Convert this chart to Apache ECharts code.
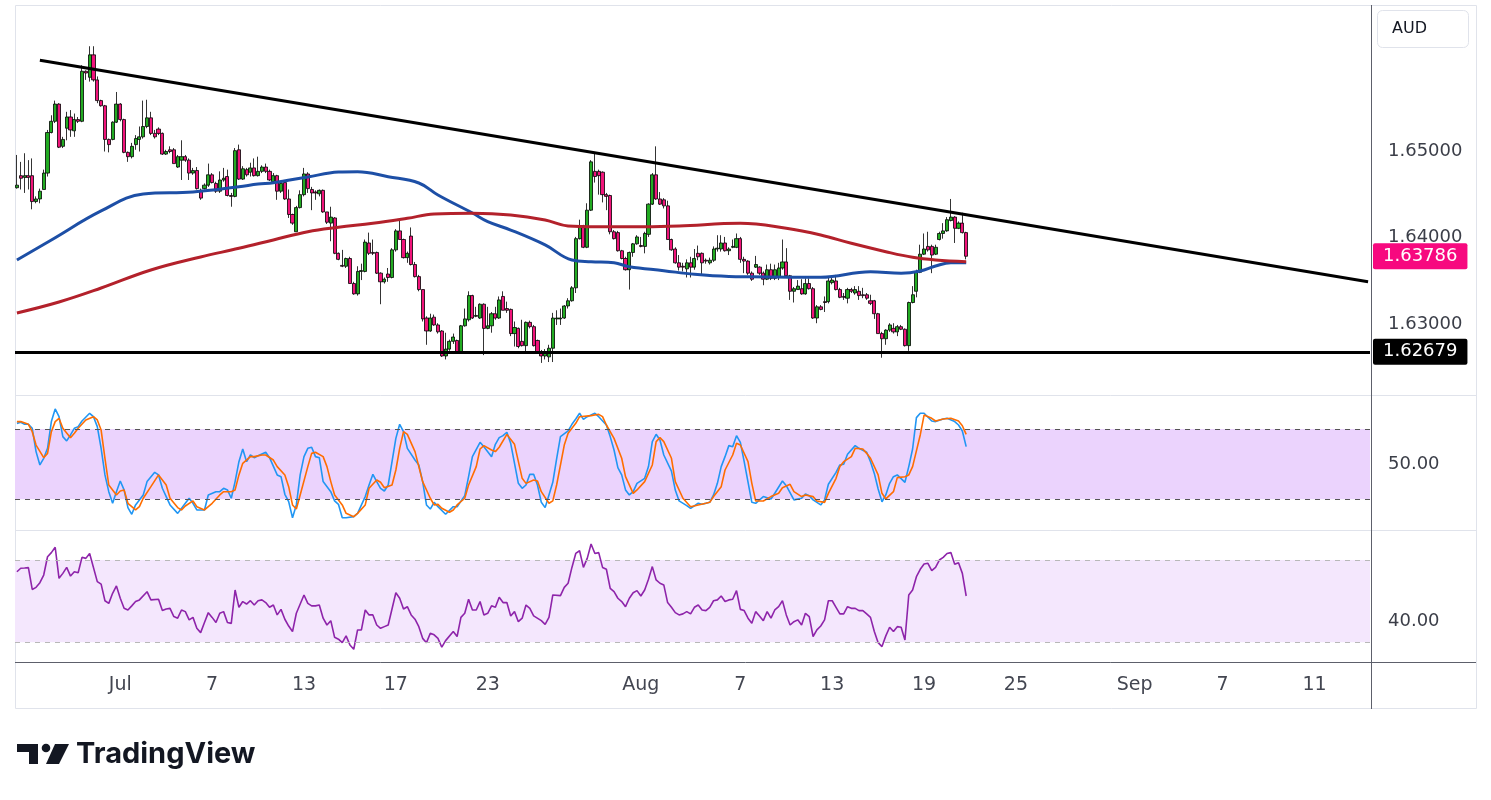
<!DOCTYPE html>
<html lang="en">
<head>
<meta charset="UTF-8">
<title>AUD 4H chart</title>
<script src="https://cdn.jsdelivr.net/npm/echarts@6.0.0/dist/echarts.min.js"></script>
<style>html,body{margin:0;padding:0;background:#fff;}</style>
</head>
<body>
<div id="main" style="width:1491px;height:800px;"></div>
<script>
// candles: [open, close, low, high], one per 4h bar
const candles = [
  [1.6458,1.6461,1.6457,1.6496],[1.6472,1.6469,1.6456,1.6488],[1.6470,1.6472,1.6452,1.6498],[1.6472,1.6470,1.6456,1.6490],[1.6472,1.6442,1.6433,1.6492],[1.6442,1.6445,1.6440,1.6448],
  [1.6445,1.6454,1.6440,1.6457],[1.6456,1.6475,1.6456,1.6479],[1.6475,1.6522,1.6471,1.6525],[1.6522,1.6535,1.6521,1.6542],[1.6535,1.6555,1.6533,1.6559],[1.6555,1.6505,1.6504,1.6556],
  [1.6506,1.6514,1.6504,1.6517],[1.6527,1.6540,1.6513,1.6546],[1.6540,1.6525,1.6517,1.6548],[1.6524,1.6537,1.6517,1.6544],[1.6537,1.6535,1.6533,1.6540],[1.6535,1.6593,1.6534,1.6600],
  [1.6593,1.6591,1.6583,1.6594],[1.6586,1.6612,1.6581,1.6622],[1.6612,1.6583,1.6581,1.6622],[1.6583,1.6559,1.6556,1.6587],[1.6559,1.6553,1.6552,1.6560],[1.6553,1.6514,1.6500,1.6554],
  [1.6514,1.6508,1.6499,1.6515],[1.6514,1.6534,1.6513,1.6535],[1.6534,1.6555,1.6533,1.6569],[1.6555,1.6537,1.6535,1.6556],[1.6537,1.6499,1.6498,1.6538],[1.6499,1.6494,1.6488,1.6500],
  [1.6494,1.6506,1.6492,1.6510],[1.6508,1.6515,1.6502,1.6519],[1.6514,1.6517,1.6500,1.6529],[1.6517,1.6529,1.6515,1.6559],[1.6529,1.6539,1.6527,1.6560],[1.6539,1.6521,1.6519,1.6546],
  [1.6521,1.6517,1.6515,1.6525],[1.6526,1.6521,1.6519,1.6528],[1.6521,1.6497,1.6496,1.6522],[1.6497,1.6500,1.6496,1.6502],[1.6502,1.6500,1.6498,1.6506],[1.6502,1.6486,1.6486,1.6504],
  [1.6482,1.6494,1.6481,1.6496],[1.6490,1.6494,1.6467,1.6513],[1.6494,1.6490,1.6488,1.6496],[1.6490,1.6475,1.6467,1.6492],[1.6475,1.6478,1.6473,1.6481],[1.6478,1.6457,1.6456,1.6482],
  [1.6455,1.6446,1.6444,1.6457],[1.6457,1.6461,1.6456,1.6463],[1.6461,1.6473,1.6459,1.6486],[1.6473,1.6464,1.6463,1.6475],[1.6463,1.6454,1.6452,1.6465],[1.6454,1.6467,1.6452,1.6477],
  [1.6467,1.6469,1.6465,1.6481],[1.6471,1.6449,1.6448,1.6479],[1.6449,1.6448,1.6436,1.6452],[1.6448,1.6501,1.6447,1.6504],[1.6502,1.6468,1.6467,1.6508],[1.6468,1.6480,1.6467,1.6483],
  [1.6479,1.6473,1.6471,1.6481],[1.6476,1.6481,1.6471,1.6487],[1.6481,1.6472,1.6471,1.6492],[1.6472,1.6477,1.6471,1.6494],[1.6477,1.6482,1.6475,1.6484],[1.6482,1.6477,1.6475,1.6486],
  [1.6477,1.6467,1.6466,1.6479],[1.6465,1.6472,1.6464,1.6475],[1.6472,1.6454,1.6444,1.6473],[1.6454,1.6463,1.6452,1.6465],[1.6464,1.6445,1.6444,1.6467],[1.6445,1.6427,1.6423,1.6456],
  [1.6427,1.6417,1.6415,1.6428],[1.6407,1.6435,1.6407,1.6437],[1.6435,1.6450,1.6434,1.6455],[1.6450,1.6474,1.6448,1.6481],[1.6474,1.6457,1.6452,1.6476],[1.6456,1.6452,1.6432,1.6459],
  [1.6453,1.6452,1.6444,1.6455],[1.6451,1.6455,1.6448,1.6456],[1.6455,1.6430,1.6429,1.6456],[1.6430,1.6418,1.6416,1.6430],[1.6417,1.6424,1.6396,1.6436],[1.6423,1.6382,1.6381,1.6424],
  [1.6382,1.6375,1.6374,1.6383],[1.6368,1.6367,1.6366,1.6386],[1.6367,1.6376,1.6365,1.6377],[1.6376,1.6347,1.6347,1.6378],[1.6347,1.6335,1.6334,1.6349],[1.6335,1.6361,1.6333,1.6367],
  [1.6361,1.6362,1.6351,1.6370],[1.6361,1.6395,1.6360,1.6398],[1.6394,1.6382,1.6380,1.6406],[1.6383,1.6382,1.6380,1.6398],[1.6383,1.6359,1.6358,1.6384],[1.6359,1.6349,1.6323,1.6360],
  [1.6349,1.6352,1.6347,1.6354],[1.6358,1.6354,1.6349,1.6365],[1.6354,1.6386,1.6353,1.6388],[1.6386,1.6408,1.6384,1.6410],[1.6408,1.6398,1.6398,1.6421],[1.6398,1.6377,1.6376,1.6399],
  [1.6377,1.6382,1.6371,1.6384],[1.6402,1.6369,1.6368,1.6412],[1.6369,1.6355,1.6354,1.6372],[1.6355,1.6340,1.6338,1.6357],[1.6340,1.6306,1.6303,1.6340],[1.6307,1.6292,1.6276,1.6309],
  [1.6292,1.6307,1.6291,1.6312],[1.6308,1.6299,1.6298,1.6311],[1.6299,1.6291,1.6289,1.6301],[1.6292,1.6263,1.6262,1.6293],[1.6263,1.6271,1.6259,1.6290],[1.6271,1.6280,1.6269,1.6282],
  [1.6280,1.6285,1.6277,1.6289],[1.6281,1.6268,1.6267,1.6282],[1.6268,1.6298,1.6267,1.6299],[1.6298,1.6306,1.6297,1.6318],[1.6305,1.6333,1.6303,1.6338],[1.6333,1.6307,1.6306,1.6334],
  [1.6309,1.6310,1.6308,1.6320],[1.6307,1.6323,1.6306,1.6324],[1.6323,1.6295,1.6264,1.6324],[1.6295,1.6298,1.6294,1.6320],[1.6298,1.6312,1.6290,1.6314],[1.6312,1.6307,1.6305,1.6320],
  [1.6307,1.6328,1.6306,1.6332],[1.6332,1.6316,1.6316,1.6338],[1.6318,1.6316,1.6313,1.6326],[1.6317,1.6289,1.6286,1.6318],[1.6289,1.6296,1.6274,1.6303],[1.6295,1.6274,1.6272,1.6296],
  [1.6280,1.6275,1.6274,1.6305],[1.6275,1.6302,1.6268,1.6303],[1.6302,1.6297,1.6295,1.6304],[1.6297,1.6275,1.6274,1.6299],[1.6281,1.6268,1.6267,1.6282],[1.6268,1.6263,1.6255,1.6270],
  [1.6263,1.6266,1.6259,1.6271],[1.6262,1.6272,1.6256,1.6276],[1.6272,1.6307,1.6256,1.6313],[1.6306,1.6307,1.6299,1.6316],[1.6306,1.6307,1.6299,1.6318],[1.6307,1.6321,1.6306,1.6322],
  [1.6321,1.6327,1.6318,1.6330],[1.6327,1.6342,1.6326,1.6344],[1.6342,1.6399,1.6336,1.6401],[1.6399,1.6414,1.6398,1.6421],[1.6414,1.6389,1.6388,1.6415],[1.6389,1.6432,1.6388,1.6440],
  [1.6432,1.6488,1.6431,1.6490],[1.6477,1.6471,1.6464,1.6498],[1.6477,1.6472,1.6450,1.6479],[1.6476,1.6450,1.6441,1.6477],[1.6450,1.6448,1.6432,1.6452],[1.6449,1.6407,1.6404,1.6450],
  [1.6407,1.6399,1.6398,1.6409],[1.6406,1.6385,1.6384,1.6408],[1.6385,1.6376,1.6375,1.6386],[1.6376,1.6363,1.6362,1.6378],[1.6363,1.6383,1.6340,1.6384],[1.6383,1.6393,1.6378,1.6394],
  [1.6393,1.6401,1.6392,1.6403],[1.6391,1.6390,1.6389,1.6401],[1.6390,1.6405,1.6382,1.6407],[1.6404,1.6439,1.6401,1.6440],[1.6439,1.6473,1.6438,1.6475],[1.6473,1.6445,1.6444,1.6506],
  [1.6445,1.6439,1.6438,1.6453],[1.6444,1.6437,1.6434,1.6446],[1.6437,1.6398,1.6398,1.6443],[1.6398,1.6386,1.6385,1.6399],[1.6387,1.6371,1.6370,1.6389],[1.6371,1.6366,1.6362,1.6380],
  [1.6367,1.6366,1.6361,1.6371],[1.6364,1.6371,1.6354,1.6375],[1.6371,1.6366,1.6354,1.6378],[1.6366,1.6376,1.6363,1.6387],[1.6382,1.6378,1.6374,1.6391],[1.6382,1.6371,1.6356,1.6383],
  [1.6374,1.6373,1.6370,1.6376],[1.6371,1.6374,1.6369,1.6377],[1.6374,1.6387,1.6372,1.6390],[1.6387,1.6388,1.6384,1.6403],[1.6387,1.6394,1.6384,1.6403],[1.6394,1.6385,1.6384,1.6401],
  [1.6385,1.6387,1.6380,1.6389],[1.6389,1.6390,1.6388,1.6398],[1.6389,1.6399,1.6388,1.6405],[1.6399,1.6375,1.6371,1.6401],[1.6375,1.6373,1.6359,1.6378],[1.6373,1.6359,1.6357,1.6374],
  [1.6359,1.6352,1.6350,1.6361],[1.6366,1.6369,1.6365,1.6379],[1.6366,1.6359,1.6357,1.6367],[1.6359,1.6352,1.6345,1.6361],[1.6352,1.6363,1.6351,1.6369],[1.6363,1.6353,1.6351,1.6370],
  [1.6353,1.6363,1.6351,1.6369],[1.6354,1.6365,1.6351,1.6371],[1.6365,1.6372,1.6363,1.6398],[1.6372,1.6356,1.6354,1.6388],[1.6356,1.6338,1.6328,1.6357],[1.6338,1.6341,1.6325,1.6343],
  [1.6340,1.6344,1.6340,1.6351],[1.6341,1.6335,1.6334,1.6352],[1.6335,1.6347,1.6334,1.6353],[1.6347,1.6341,1.6340,1.6353],[1.6341,1.6307,1.6306,1.6343],[1.6307,1.6320,1.6301,1.6322],
  [1.6320,1.6317,1.6316,1.6322],[1.6326,1.6325,1.6314,1.6332],[1.6326,1.6350,1.6324,1.6354],[1.6348,1.6351,1.6346,1.6356],[1.6350,1.6340,1.6339,1.6357],[1.6340,1.6331,1.6330,1.6342],
  [1.6332,1.6331,1.6328,1.6336],[1.6330,1.6340,1.6324,1.6342],[1.6340,1.6338,1.6336,1.6342],[1.6336,1.6340,1.6334,1.6344],[1.6338,1.6333,1.6328,1.6344],[1.6334,1.6333,1.6330,1.6342],
  [1.6334,1.6330,1.6328,1.6336],[1.6327,1.6324,1.6322,1.6334],[1.6327,1.6312,1.6306,1.6328],[1.6312,1.6289,1.6289,1.6313],[1.6289,1.6283,1.6261,1.6291],[1.6283,1.6293,1.6276,1.6294],
  [1.6293,1.6299,1.6291,1.6301],[1.6295,1.6291,1.6289,1.6301],[1.6291,1.6297,1.6286,1.6299],[1.6297,1.6294,1.6293,1.6299],[1.6294,1.6275,1.6274,1.6295],[1.6275,1.6325,1.6269,1.6326],
  [1.6325,1.6334,1.6324,1.6344],[1.6338,1.6360,1.6331,1.6363],[1.6360,1.6381,1.6359,1.6392],[1.6381,1.6387,1.6380,1.6405],[1.6390,1.6386,1.6384,1.6407],[1.6390,1.6380,1.6359,1.6392],
  [1.6381,1.6389,1.6380,1.6392],[1.6398,1.6405,1.6397,1.6407],[1.6405,1.6408,1.6399,1.6417],[1.6408,1.6421,1.6407,1.6424],[1.6420,1.6424,1.6419,1.6445],[1.6424,1.6411,1.6394,1.6425],
  [1.6411,1.6417,1.6410,1.6419],[1.6417,1.6406,1.6405,1.6429],[1.6406,1.63786,1.6375,1.6407]
];

// moving averages, [bar index, value]
const blueMA = [[0,1.63743],[9,1.63975],[22,1.64311],[33,1.64508],[46,1.64531],[58,1.64592],[63,1.64623],[67,1.64638],[76,1.64705],[84,1.64762],[89,1.64766],[97,1.64708],[105,1.64635],[110,1.64496],[119,1.64287],[123,1.64187],[129,1.64090],[138,1.63917],[145,1.63743],[150,1.63723],[156,1.63711],[160,1.63665],[169,1.63619],[177,1.63577],[186,1.63552],[192,1.63549],[210,1.63542],[223,1.63607],[231,1.63589],[236,1.63615],[240,1.63673],[244,1.63711],[248,1.63711]];
const redMA = [[0,1.63129],[11,1.63256],[22,1.63418],[35,1.63627],[48,1.63778],[58,1.63878],[67,1.63975],[76,1.64071],[84,1.64122],[93,1.64168],[102,1.64226],[109,1.64276],[119,1.64284],[129,1.64264],[138,1.64206],[144,1.64137],[151,1.64129],[164,1.64129],[173,1.64137],[189,1.64168],[201,1.64110],[210,1.64032],[218,1.63936],[227,1.63839],[234,1.63774],[240,1.63743],[248,1.63723]];

// stochastic %K and %D, [bar index, value]
const stochK = [[0,84.8],[1,85.7],[2,84.0],[3,84.0],[4,80.6],[5,60.7],[6,49.3],[7,55.0],[8,63.5],[9,86.3],[10,97.1],[11,90.5],[12,73.5],[13,69.8],[14,74.9],[15,80.6],[16,82.0],[17,86.8],[19,93.4],[20,90.5],[21,82.0],[22,63.5],[23,40.8],[24,26.5],[25,16.6],[26,26.5],[27,35.6],[28,28.0],[29,12.9],[30,7.2],[31,15.2],[33,23.7],[34,35.1],[36,43.0],[37,40.8],[38,29.4],[39,22.3],[40,15.2],[42,8.0],[44,16.6],[45,20.9],[46,16.6],[47,10.9],[49,10.9],[50,23.7],[52,26.5],[53,26.5],[54,29.4],[55,28.0],[56,20.9],[57,35.1],[58,52.1],[59,62.9],[60,52.1],[61,57.8],[62,55.5],[63,57.2],[65,60.1],[66,55.5],[68,40.8],[69,39.3],[70,24.3],[71,18.0],[72,4.3],[73,15.2],[74,40.8],[75,56.4],[76,63.5],[77,64.4],[78,56.4],[79,55.5],[80,35.1],[82,26.5],[83,18.6],[84,15.7],[85,4.3],[86,4.3],[88,5.2],[89,8.0],[91,22.3],[92,32.2],[93,41.3],[94,35.1],[95,29.4],[96,27.1],[97,32.2],[98,52.1],[99,72.0],[100,84.0],[101,77.7],[102,63.5],[104,53.5],[105,49.3],[106,35.1],[107,15.2],[108,11.7],[109,17.4],[110,13.7],[112,7.2],[114,13.7],[115,13.7],[117,23.1],[118,39.3],[119,56.4],[121,68.6],[122,64.9],[124,56.4],[125,66.9],[126,72.6],[127,74.3],[128,77.2],[129,67.8],[130,50.7],[131,33.6],[132,29.4],[133,32.2],[134,41.3],[135,41.3],[136,32.2],[137,17.4],[138,12.9],[139,23.7],[140,34.5],[141,54.4],[142,73.5],[144,78.3],[145,84.0],[146,88.5],[147,93.4],[148,88.2],[149,90.5],[151,93.4],[152,90.5],[154,83.4],[155,73.5],[156,62.1],[157,47.0],[158,40.8],[159,28.0],[160,23.7],[161,26.5],[162,33.6],[164,37.9],[165,47.9],[166,69.2],[167,75.5],[168,70.6],[169,57.8],[171,44.1],[172,27.9],[173,18.6],[175,14.6],[176,12.3],[178,16.6],[179,15.7],[181,17.4],[182,23.7],[183,33.6],[184,47.9],[185,56.4],[186,65.8],[187,64.9],[188,74.3],[189,68.6],[190,52.1],[192,17.4],[193,16.6],[195,22.3],[197,20.3],[198,25.2],[200,35.6],[201,31.6],[203,19.5],[205,20.9],[206,24.6],[207,23.1],[208,19.5],[210,15.2],[211,19.5],[212,32.8],[214,43.0],[215,49.3],[216,49.9],[217,58.4],[219,65.8],[220,63.5],[222,60.1],[223,52.1],[224,42.1],[225,28.8],[226,17.9],[227,23.7],[228,33.6],[229,39.3],[230,40.8],[232,34.5],[233,47.9],[234,62.9],[235,89.7],[236,93.4],[237,93.4],[239,86.8],[240,86.3],[242,88.5],[243,89.1],[245,86.3],[246,83.4],[247,78.3],[248,64.9]];
const stochD = [[0,86.3],[1,86.3],[3,84.0],[4,77.7],[5,66.3],[7,55.5],[8,59.2],[9,77.7],[10,86.3],[11,89.1],[12,80.6],[14,72.6],[15,76.3],[16,80.6],[18,87.7],[20,90.5],[21,87.7],[22,79.1],[23,55.0],[24,32.2],[26,23.7],[27,27.1],[28,28.0],[29,16.6],[31,10.9],[32,13.7],[33,20.9],[35,30.8],[37,40.8],[39,32.2],[40,20.9],[42,12.9],[43,10.9],[44,14.3],[46,18.6],[47,13.7],[49,10.9],[51,16.6],[53,23.7],[54,26.5],[56,26.5],[57,28.0],[58,40.8],[59,50.7],[61,56.4],[62,56.4],[64,57.8],[65,57.8],[67,53.5],[68,47.9],[70,40.8],[71,30.8],[72,15.2],[73,11.7],[74,23.7],[76,47.9],[77,59.2],[78,60.1],[80,56.4],[81,47.9],[82,35.1],[83,23.7],[85,15.2],[86,8.0],[88,5.2],[89,8.0],[91,15.2],[92,29.4],[94,36.5],[95,34.5],[96,29.9],[98,32.2],[99,45.0],[100,63.5],[101,77.7],[102,75.4],[104,60.7],[105,47.9],[106,35.1],[108,20.9],[109,15.2],[110,15.7],[111,12.3],[113,8.9],[114,10.9],[115,15.2],[117,20.9],[118,32.2],[120,47.9],[121,62.9],[122,65.8],[124,62.1],[125,60.7],[126,64.4],[128,75.4],[130,66.9],[132,37.9],[133,33.6],[135,36.5],[136,35.6],[137,26.5],[139,16.6],[140,18.6],[141,32.2],[143,66.3],[144,76.3],[146,84.8],[147,90.5],[150,91.4],[152,92.5],[153,90.5],[154,83.4],[156,72.0],[158,55.0],[159,39.3],[161,25.1],[162,28.0],[164,35.1],[166,49.3],[167,69.2],[168,72.6],[169,69.2],[171,55.0],[172,35.1],[174,20.9],[176,13.7],[178,15.2],[180,16.6],[181,17.4],[182,22.3],[184,30.8],[185,45.0],[187,57.8],[188,67.8],[189,66.3],[191,52.1],[192,33.6],[193,18.6],[195,18.6],[197,22.3],[199,25.1],[200,29.9],[202,32.8],[203,26.5],[205,22.3],[206,23.7],[208,22.3],[209,18.6],[211,17.4],[212,25.1],[214,37.9],[215,47.9],[216,52.1],[218,56.4],[219,63.5],[221,62.9],[222,59.2],[223,55.0],[225,40.8],[226,25.1],[227,20.3],[229,26.5],[230,38.5],[232,39.3],[233,40.8],[234,47.9],[236,74.9],[237,91.9],[239,89.1],[240,86.8],[242,88.5],[244,89.1],[246,86.8],[247,82.8],[248,75.4]];

// RSI, [bar index, value]
const rsi = [[0,64.3],[1,66.0],[2,66.1],[3,66.3],[4,55.7],[5,56.7],[6,59.0],[7,62.7],[8,71.6],[9,73.6],[10,76.2],[11,61.1],[12,63.5],[13,66.4],[14,62.2],[15,64.3],[16,63.8],[17,71.3],[18,70.8],[19,73.2],[21,59.5],[22,58.3],[23,50.2],[24,48.9],[25,53.8],[26,57.4],[27,51.4],[28,46.5],[29,45.7],[30,47.7],[31,49.8],[32,50.6],[34,54.6],[35,50.6],[37,50.9],[38,45.4],[39,46.2],[40,46.5],[41,42.5],[42,41.7],[43,45.7],[44,44.9],[45,40.9],[46,42.1],[47,36.8],[48,34.7],[49,39.6],[50,44.4],[51,42.1],[52,39.6],[53,44.1],[54,44.9],[55,39.6],[56,39.2],[57,55.4],[58,47.0],[59,49.8],[60,48.6],[61,50.2],[62,48.1],[63,50.2],[64,50.6],[65,49.3],[66,47.0],[67,48.1],[68,43.3],[69,46.0],[70,41.2],[71,37.9],[72,35.2],[73,44.1],[75,53.0],[76,48.9],[77,47.7],[78,47.7],[79,48.1],[80,41.7],[81,38.4],[82,40.5],[83,32.4],[84,31.5],[85,29.8],[86,33.1],[87,28.7],[88,26.6],[89,36.0],[90,36.0],[91,45.7],[92,43.3],[93,43.3],[94,38.4],[95,36.8],[96,37.6],[97,38.4],[99,54.1],[100,51.4],[101,46.2],[102,47.3],[103,43.3],[104,41.2],[105,37.6],[106,31.9],[107,29.8],[108,34.4],[109,33.6],[110,31.9],[111,27.6],[112,30.8],[114,35.2],[115,32.8],[116,42.1],[117,44.1],[118,50.9],[119,45.7],[120,45.7],[121,49.8],[122,43.3],[123,44.1],[124,47.7],[125,47.0],[126,51.9],[127,49.3],[128,49.3],[129,42.8],[130,44.9],[131,40.0],[132,41.7],[133,48.1],[134,46.5],[135,42.8],[137,40.5],[138,38.7],[139,42.1],[140,53.0],[142,52.7],[143,56.7],[144,58.7],[145,66.4],[146,73.2],[147,74.5],[148,66.4],[149,70.8],[150,77.8],[151,73.2],[152,73.6],[153,66.4],[154,65.5],[155,56.2],[156,54.6],[157,51.4],[158,49.8],[159,47.3],[160,51.4],[161,54.1],[162,55.1],[163,52.5],[164,55.4],[165,60.6],[166,66.8],[167,60.3],[168,58.7],[169,57.9],[170,49.3],[171,47.0],[172,44.4],[173,43.3],[174,43.8],[175,44.9],[176,43.8],[177,47.0],[178,48.1],[179,45.7],[180,45.4],[181,47.0],[182,50.2],[183,50.6],[184,52.5],[185,49.8],[186,50.6],[187,50.9],[188,55.1],[189,46.0],[190,45.4],[191,41.7],[192,39.2],[193,44.9],[194,42.8],[195,40.5],[196,44.9],[197,41.7],[198,45.7],[199,47.3],[200,50.2],[201,43.3],[202,38.4],[203,40.0],[204,40.9],[205,38.4],[206,44.1],[207,42.5],[208,32.8],[209,36.0],[210,37.9],[211,40.9],[212,50.2],[213,50.2],[214,47.0],[215,43.8],[216,43.8],[217,47.3],[218,46.5],[219,46.5],[220,45.4],[221,45.4],[222,43.8],[223,42.1],[224,35.2],[225,29.8],[226,27.9],[227,33.1],[228,37.3],[229,35.2],[230,37.6],[231,37.3],[232,31.1],[233,53.0],[234,55.4],[235,61.9],[236,65.5],[237,68.1],[238,68.4],[239,64.8],[240,66.4],[241,70.0],[242,71.3],[243,73.2],[244,73.6],[245,67.9],[246,68.7],[247,63.5],[248,52.5]];

// drawings
const trendLine = [[6, 1.66057], [353, 1.63491]];
const supportLevel = 1.62679;
const lastPrice = 1.63786;

// time axis: total bar slots (incl. empty future space) and labelled slots
const totalSlots = 354;
const dayLabels = ['Jul', '7', '13', '17', '23', 'Aug', '7', '13', '19', '25', 'Sep', '7', '11'];
const dayLabelIdx = [27, 51, 75, 99, 123, 163, 189, 213, 237, 261, 292, 315, 339];
const priceTicks = [1.65, 1.64, 1.63];
const stochTicks = [50];
const rsiTicks = [40];

const categories = [];
for (let i = 0; i < totalSlots; i++) categories.push('');
dayLabelIdx.forEach((idx, k) => { categories[idx] = dayLabels[k]; });

const FONT = '"DejaVu Sans", sans-serif';
const upColor = '#22ab22';
const downColor = '#f0147a';

let myChart = echarts.init(document.getElementById('main'));

const xBase = (gi, showLabels) => ({
  type: 'category', gridIndex: gi, data: categories, boundaryGap: true,
  axisLine: { show: false }, axisTick: { show: false }, splitLine: { show: false },
  axisLabel: {
    show: showLabels, interval: 0, margin: 14, fontSize: 19, color: '#434651', fontFamily: FONT
  }
});
const yBase = (gi, min, max, ticks, digits) => ({
  type: 'value', gridIndex: gi, position: 'right', min: min, max: max, scale: true,
  axisLine: { show: false }, axisTick: { show: false }, splitLine: { show: false },
  axisLabel: {
    customValues: ticks, margin: 18, fontSize: 18, color: '#3b3e48', fontFamily: FONT,
    formatter: v => v.toFixed(digits)
  }
});

// label style for the price tags on the right axis
const priceTag = (value, bg) => ({
  show: true, position: 'end', distance: 3, formatter: value.toFixed(5),
  color: '#fff', backgroundColor: bg, padding: [4, 10, 4, 10], borderRadius: 2,
  fontSize: 18, fontFamily: FONT
});

let options = {
  animation: false,
  backgroundColor: '#ffffff',
  grid: [
    { left: 15, width: 1355, top: 5, height: 390 },
    { left: 15, width: 1355, top: 395, height: 135 },
    { left: 15, width: 1355, top: 530, height: 132 }
  ],
  xAxis: [xBase(0, false), xBase(1, false), xBase(2, true)],
  yAxis: [
    yBase(0, 1.62178, 1.66698, priceTicks, 5),
    yBase(1, -6.2, 109, stochTicks, 2),
    yBase(2, 20.4, 84.6, rsiTicks, 2)
  ],
  graphic: [
    { type: 'rect', silent: true, z: -1, shape: { x: 15.5, y: 5.5, width: 1461, height: 703 }, style: { fill: 'none', stroke: '#e0e3eb', lineWidth: 1 } },
    { type: 'line', silent: true, shape: { x1: 15, y1: 395.5, x2: 1476, y2: 395.5 }, style: { stroke: '#e0e3eb', lineWidth: 1 } },
    { type: 'line', silent: true, shape: { x1: 15, y1: 530.5, x2: 1476, y2: 530.5 }, style: { stroke: '#e0e3eb', lineWidth: 1 } },
    { type: 'line', silent: true, shape: { x1: 15, y1: 662.5, x2: 1476, y2: 662.5 }, style: { stroke: '#5d606b', lineWidth: 1 } },
    { type: 'line', silent: true, shape: { x1: 1371.5, y1: 5, x2: 1371.5, y2: 709 }, style: { stroke: '#5d606b', lineWidth: 1 } },
    { type: 'rect', silent: true, shape: { x: 1377.5, y: 10.5, width: 91, height: 37, r: 5 }, style: { fill: '#fff', stroke: '#e0e3eb', lineWidth: 1 } },
    { type: 'text', silent: true, style: { x: 1392, y: 29, text: 'AUD', fontSize: 16, fontFamily: FONT, fill: '#131722', verticalAlign: 'middle' } },
    // TradingView logo
    { type: 'polygon', silent: true, shape: { points: [[17, 744], [38, 744], [38, 764], [29, 764], [29, 752], [17, 752]] }, style: { fill: '#131722' } },
    { type: 'circle', silent: true, shape: { cx: 46, cy: 748, r: 4.3 }, style: { fill: '#131722' } },
    { type: 'polygon', silent: true, shape: { points: [[55, 744], [69, 744], [59, 764], [46, 764]] }, style: { fill: '#131722' } },
    { type: 'text', silent: true, style: { x: 76, y: 754, text: 'TradingView', fontSize: 29, fontWeight: 'bold', fontFamily: 'Inter, "Noto Sans", sans-serif', fill: '#131722', verticalAlign: 'middle' } }
  ],
  series: [
    {
      name: 'price', type: 'candlestick', xAxisIndex: 0, yAxisIndex: 0, data: candles,
      barWidth: 3.6, z: 2,
      itemStyle: { color: upColor, color0: downColor, borderColor: '#000', borderColor0: '#000', borderWidth: 0.8 }
    },
    {
      name: 'MA blue', type: 'line', xAxisIndex: 0, yAxisIndex: 0, data: blueMA, smooth: 0.4,
      showSymbol: false, z: 3, lineStyle: { color: '#1d4fa6', width: 3 }
    },
    {
      name: 'MA red', type: 'line', xAxisIndex: 0, yAxisIndex: 0, data: redMA, smooth: 0.4,
      showSymbol: false, z: 3, lineStyle: { color: '#b3212b', width: 3 }
    },
    {
      name: 'trend', type: 'line', xAxisIndex: 0, yAxisIndex: 0, data: trendLine,
      showSymbol: false, z: 5, lineStyle: { color: '#000', width: 3 },
      markLine: {
        silent: true, symbol: ['none', 'none'], animation: false, precision: 5,
        data: [
          { yAxis: supportLevel, lineStyle: { color: '#000', width: 3, type: 'solid' }, label: priceTag(supportLevel, '#000') },
          { yAxis: lastPrice, lineStyle: { color: 'rgba(0,0,0,0)', width: 1, type: 'solid' }, label: priceTag(lastPrice, '#f7097f') }
        ]
      }
    },
    {
      name: 'stoch band', type: 'line', xAxisIndex: 1, yAxisIndex: 1, data: [], z: 1,
      markArea: { silent: true, itemStyle: { color: '#ebd3fd' }, data: [[{ yAxis: 20 }, { yAxis: 80 }]] },
      markLine: { silent: true, symbol: ['none', 'none'], label: { show: false },
        lineStyle: { color: '#555', type: [5, 5], width: 1 }, data: [{ yAxis: 80 }, { yAxis: 20 }] }
    },
    {
      name: '%K', type: 'line', xAxisIndex: 1, yAxisIndex: 1, data: stochK,
      showSymbol: false, z: 3, lineStyle: { color: '#2196f3', width: 1.6 }
    },
    {
      name: '%D', type: 'line', xAxisIndex: 1, yAxisIndex: 1, data: stochD,
      showSymbol: false, z: 4, lineStyle: { color: '#ff6d00', width: 1.6 }
    },
    {
      name: 'RSI', type: 'line', xAxisIndex: 2, yAxisIndex: 2, data: rsi,
      showSymbol: false, z: 3, lineStyle: { color: '#8e24aa', width: 1.6 },
      markArea: { silent: true, itemStyle: { color: '#f4e7fd' }, data: [[{ yAxis: 30 }, { yAxis: 70 }]] },
      markLine: { silent: true, symbol: ['none', 'none'], label: { show: false },
        lineStyle: { color: '#b8b8b8', type: [5, 5], width: 1 }, data: [{ yAxis: 70 }, { yAxis: 30 }] }
    }
  ]
};

myChart.setOption(options);
</script>
</body>
</html>
